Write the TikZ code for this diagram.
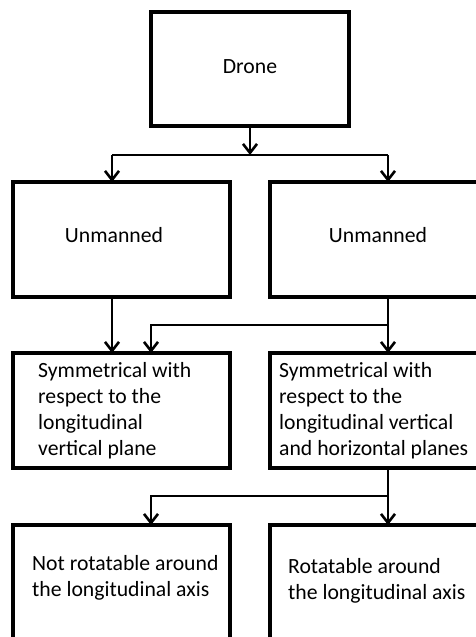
\documentclass[tikz,border=0pt]{standalone}
\usepackage{fontspec}
\setmainfont{Carlito}
\usetikzlibrary{arrows.meta}
\begin{document}
\begin{tikzpicture}[x=1pt,y=-1pt,
  box/.style={draw, line width=3.1pt, inner sep=0pt, outer sep=0pt},
  link/.style={line width=2.6pt},
  tip/.style={link, -{Straight Barb[length=9pt,width=14pt]}},
  label/.style={font=\fontsize{21.7}{26}\selectfont, inner sep=0pt, align=left}]
  \clip (0,0) rectangle (476,637);
  \fill[white] (0,0) rectangle (476,637);

  % boxes
  \node[box, minimum width=198pt, minimum height=114pt] (drone) at (250,69) {};
  \node[box, minimum width=217pt, minimum height=115pt] (un1) at (121.5,239.5) {};
  \node[box, minimum width=210pt, minimum height=115pt] (un2) at (375,239.5) {};
  \node[box, minimum width=217pt, minimum height=115pt] (sym1) at (121.5,410.5) {};
  \node[box, minimum width=210pt, minimum height=115pt] (sym2) at (375,410.5) {};
  \node[box, minimum width=217pt, minimum height=125pt] (rot1) at (121.5,587.5) {};
  \node[box, minimum width=210pt, minimum height=125pt] (rot2) at (375,587.5) {};

  % texts (multi-line labels are anchored at the baseline of their last line)
  \node[label, anchor=base] (tdrone) at (250,73) {Drone};
  \node[label, anchor=base] (tun1) at (114,242) {Unmanned};
  \node[label, anchor=base] (tun2) at (378,242) {Unmanned};
  \node[label, anchor=base west] (tsym1) at (38,455)
    {Symmetrical with\\respect to the\\longitudinal\\vertical plane};
  \node[label, anchor=base west] (tsym2) at (279,455)
    {Symmetrical with\\respect to the\\longitudinal vertical\\and horizontal planes};
  \node[label, anchor=base west] (trot1) at (32,596)
    {Not rotatable around\\the longitudinal axis};
  \node[label, anchor=base west] (trot2) at (288,599)
    {Rotatable around\\the longitudinal axis};

  % junction points
  \coordinate (j0) at (250,155);
  \coordinate (jl) at (112,155);
  \coordinate (jr) at (388,155);
  \coordinate (k1) at (112,297);
  \coordinate (k2) at (388,325);
  \coordinate (k3) at (151,325);
  \coordinate (m1) at (388,496);
  \coordinate (m2) at (151,496);

  % connectors
  \draw[tip] (drone.south) -- (j0);
  \draw[link] (jl) -- (jr);
  \draw[tip] (jl) -- (jl |- un1.north);
  \draw[tip] (jr) -- (jr |- un2.north);
  \draw[tip] (k1 |- un1.south) -- (k1 |- sym1.north);
  \draw[tip] (k2 |- un2.south) -- (k2 |- sym2.north);
  \draw[tip] (k2) -- (k3) -- (k3 |- sym1.north);
  \draw[link] (m1 |- sym2.south) -- (m1);
  \draw[tip] (m1) -- (m1 |- rot2.north);
  \draw[tip] (m1) -- (m2) -- (m2 |- rot1.north);
\end{tikzpicture}
\end{document}
